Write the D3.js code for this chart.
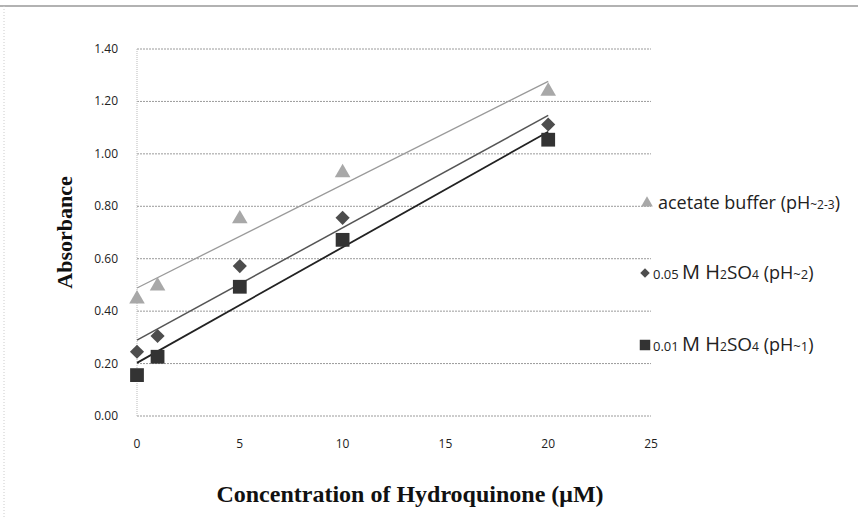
<!DOCTYPE html>
<html>
<head>
<meta charset="utf-8">
<script src="https://cdn.jsdelivr.net/npm/d3@7"></script>
<style>
  body { margin: 0; background: #fff; }
  svg { display: block; }
</style>
</head>
<body>
<svg id="chart" width="858" height="517"></svg>
<script>
// concentrations (uM) and absorbance
const conc = [0, 1, 5, 10, 20];
const acetate = [0.446, 0.496, 0.752, 0.928, 1.239];
const h2so4_05 = [0.245, 0.305, 0.572, 0.756, 1.112];
const h2so4_01 = [0.156, 0.226, 0.493, 0.672, 1.054];
const yTicks = [0, 0.2, 0.4, 0.6, 0.8, 1.0, 1.2, 1.4];
const xTicks = [0, 5, 10, 15, 20, 25];

// diamond drawn as a square turned 45 degrees (excel style)
const wideDiamond = {
  draw(ctx, size) {
    const r = Math.sqrt(size / 2);
    ctx.moveTo(0, -r); ctx.lineTo(r, 0); ctx.lineTo(0, r); ctx.lineTo(-r, 0); ctx.closePath();
  }
};

const series = [
  { vals: acetate, shape: d3.symbolTriangle, size: 105, lsize: 60, fill: "#a8a8a8", line: "#9a9a9a", lw: 1.3 },
  { vals: h2so4_05, shape: wideDiamond, size: 100, lsize: 45, fill: "#4d4d4d", line: "#555", lw: 1.5 },
  { vals: h2so4_01, shape: d3.symbolSquare, size: 190, lsize: 110, fill: "#333", line: "#222", lw: 1.8 }
];

const svg = d3.select("#chart");

// faint scan frame
svg.append("line").attr("x1", 0).attr("x2", 858).attr("y1", 6).attr("y2", 6)
  .attr("stroke", "#999").attr("stroke-width", 1.5);
svg.append("line").attr("x1", 4).attr("x2", 4).attr("y1", 6).attr("y2", 517)
  .attr("stroke", "#ccc").attr("stroke-dasharray", "1,2");

const x = d3.scaleLinear().domain([0, 25]).range([137, 651]);
const y = d3.scaleLinear().domain([0, 1.4]).range([416, 49]);

// gridlines
svg.append("g").selectAll("line").data(yTicks).join("line")
  .attr("x1", x(0)).attr("x2", x(25))
  .attr("y1", d => y(d)).attr("y2", d => y(d))
  .attr("stroke", "#9a9a9a").attr("stroke-width", 1)
  .attr("stroke-dasharray", "2,1");

// y axis line
svg.append("line").attr("x1", x(0)).attr("x2", x(0)).attr("y1", y(1.4)).attr("y2", y(0))
  .attr("stroke", "#bbb").attr("stroke-dasharray", "1,1");

// tick labels
svg.append("g").selectAll("text").data(yTicks).join("text")
  .attr("x", 118).attr("y", d => y(d) + 4)
  .attr("text-anchor", "end")
  .attr("font-family", "Open Sans, sans-serif").attr("font-size", 12)
  .attr("fill", "#222")
  .text(d => d3.format(".2f")(d));

svg.append("g").selectAll("text").data(xTicks).join("text")
  .attr("x", d => x(d)).attr("y", 448)
  .attr("text-anchor", "middle")
  .attr("font-family", "Open Sans, sans-serif").attr("font-size", 12)
  .attr("fill", "#222")
  .text(d => d);

// linear trend lines (least squares over each series)
function fit(xs, ys) {
  const mx = d3.mean(xs), my = d3.mean(ys);
  const sxy = d3.sum(xs, (v, i) => (v - mx) * (ys[i] - my));
  const sxx = d3.sum(xs, v => (v - mx) * (v - mx));
  const b = sxy / sxx;
  return { a: my - b * mx, b: b };
}

series.forEach(s => {
  const f = fit(conc, s.vals);
  const x0 = d3.min(conc), x1 = d3.max(conc);
  svg.append("line")
    .attr("x1", x(x0)).attr("y1", y(f.a + f.b * x0))
    .attr("x2", x(x1)).attr("y2", y(f.a + f.b * x1))
    .attr("stroke", s.line).attr("stroke-width", s.lw);
});

// markers
series.forEach(s => {
  svg.append("g").selectAll("path").data(conc).join("path")
    .attr("transform", (d, i) => `translate(${x(d)},${y(s.vals[i])})`)
    .attr("d", d3.symbol().type(s.shape).size(s.size))
    .attr("fill", s.fill);
});

// legend
const legendY = [203, 273, 345];
const legendPH = ["~2-3", "~2", "~1"];
const legendPre = ["", "0.05 ", "0.01 "];
legendY.forEach((ly, i) => {
  const s = series[i];
  svg.append("path")
    .attr("transform", `translate(${i === 0 ? 647 : 645},${ly})`)
    .attr("d", d3.symbol().type(s.shape).size(s.lsize))
    .attr("fill", s.fill);
  const t = svg.append("text")
    .attr("x", i === 0 ? 658 : 653).attr("y", ly + 6)
    .attr("font-family", "Open Sans, sans-serif").attr("fill", "#222");
  if (i === 0) {
    t.append("tspan").attr("font-size", 18).text("acetate buffer (pH");
    t.append("tspan").attr("font-size", 12).text(legendPH[i]);
    t.append("tspan").attr("font-size", 18).text(")");
  } else {
    t.append("tspan").attr("font-size", 13).text(legendPre[i]);
    t.append("tspan").attr("font-size", 20).text("M H");
    t.append("tspan").attr("font-size", 12).text("2");
    t.append("tspan").attr("font-size", 19).text("SO");
    t.append("tspan").attr("font-size", 12).text("4");
    t.append("tspan").attr("font-size", 18).text(" (pH");
    t.append("tspan").attr("font-size", 13).text(legendPH[i]);
    t.append("tspan").attr("font-size", 18).text(")");
  }
});

// axis titles
svg.append("text")
  .attr("transform", `translate(72,${(y(0) + y(1.4)) / 2}) rotate(-90)`)
  .attr("text-anchor", "middle")
  .attr("font-family", "Liberation Serif, serif").attr("font-weight", "bold")
  .attr("font-size", 22).attr("fill", "#111")
  .text("Absorbance");

svg.append("text")
  .attr("x", 410).attr("y", 502)
  .attr("text-anchor", "middle")
  .attr("font-family", "Liberation Serif, serif").attr("font-weight", "bold")
  .attr("font-size", 24).attr("fill", "#111")
  .text("Concentration of Hydroquinone (\u03bcM)");
</script>
</body>
</html>
